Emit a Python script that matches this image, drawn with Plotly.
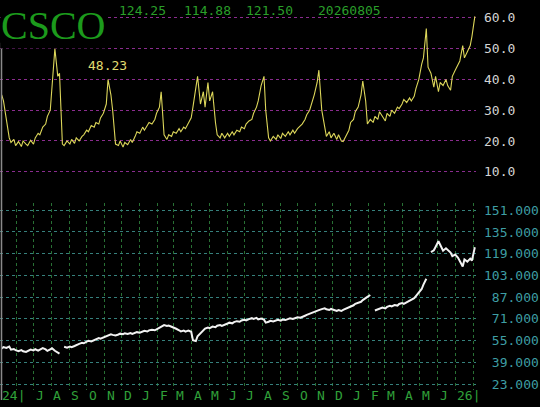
import plotly.graph_objects as go
import pandas as pd

# ---------------- data ----------------
start_date = "2024-05-07"
iv = [35, 33, 27, 21, 19.5, 20.5, 18.5, 19.8, 18.2, 20,
      19, 18.5, 20.2, 19, 21, 22.5, 22, 24.5, 25.5, 28,
      30, 37, 50, 41, 42, 19, 18.5, 20, 19, 20.5,
      19.2, 21, 20, 21.5, 22, 23.5, 23, 25, 24.5, 26,
      25.5, 27.5, 29, 32, 40, 35, 30, 19, 18.5, 20,
      18, 19.5, 18.8, 20.5, 19.5, 21.5, 23, 22.5, 24.5, 23.5,
      25, 26, 25.5, 27, 29, 31, 36, 22, 20.5, 22,
      21.5, 23, 22.5, 24, 23, 24.5, 24, 26, 27.5, 31,
      38, 41, 32, 36, 31, 39, 33, 36, 26, 22,
      21, 22.5, 21, 22.5, 21.5, 23, 22, 23.5, 23, 24.5,
      24, 25.5, 26.5, 27, 29, 31, 33, 38, 41, 30,
      21, 20, 21.5, 20.5, 22, 20.8, 22.5, 21.5, 23, 22,
      23.5, 22.5, 24, 25, 25.5, 27, 28.5, 30, 33, 35,
      39, 43, 30, 24, 21.5, 23, 21, 22.5, 20.5, 22,
      20, 19.8, 21.5, 23.5, 26, 27, 29.5, 31, 35, 39.5,
      33, 25.5, 27, 26, 28, 27, 29.5, 28, 26.5, 29,
      28, 30, 29, 31, 30.5, 32, 33.5, 32.5, 34, 33,
      34.5, 37, 40, 45, 47, 56.5, 44, 42, 37.5, 41,
      36, 39, 38, 40, 38, 36.5, 41, 43, 45, 46,
      51, 47, 49, 51, 54, 60.5]

price = [49.3, 50.2, 49.6, 50.6, 48.3, 48.8, 47.9, 47.2, 48.0, 47.1,
         46.6, 47.5, 48.4, 47.8, 48.6, 47.6, 48.2, 49.4, 48.5, 47.4,
         48.6, 49.3, 47.5, 46.2, 45.4, None, 50.4, 49.8, 50.6, 50.1,
         51.0, 51.8, 52.6, 53.3, 53.0, 54.2, 54.8, 54.4, 55.6, 56.3,
         56.9, 56.4, 57.2, 57.8, 58.3, 59.6, 59.2, 58.7, 59.5, 60.1,
         59.7, 60.4, 59.8, 60.5, 59.9, 60.6, 61.2, 60.8, 61.6, 62.2,
         61.7, 62.5, 63.0, 62.6, 63.3, 64.5, 65.8, 66.4, 65.7, 66.1,
         65.2, 64.4, 63.7, 62.6, 61.8, 62.4, 61.6, 62.3, 61.5, 55.2,
         54.6, 58.2, 60.5, 62.4, 63.8, 64.6, 64.2, 65.3, 64.8, 65.9,
         66.4, 65.8, 67.0, 67.6, 68.2, 67.7, 68.6, 69.3, 68.9, 69.8,
         70.4, 69.9, 70.8, 71.5, 71.0, 71.7, 70.6, 71.2, 70.4, 68.2,
         68.9, 69.6, 69.1, 69.8, 70.3, 69.7, 70.5, 70.1, 70.8, 71.4,
         70.9, 71.6, 72.2, 71.8, 72.6, 73.3, 73.9, 74.6, 75.4, 76.0,
         76.8, 77.4, 78.2, 78.8, 78.1, 77.5, 78.3, 77.6, 76.9, 77.5,
         76.8, 77.6, 78.5, 79.4, 80.3, 81.0, 82.1, 82.8, 83.6, 84.8,
         86.0, 87.2, 88.6, None, 77.2, 78.0, 78.6, 79.3, 78.7, 79.8,
         80.6, 80.1, 81.2, 80.8, 82.0, 82.6, 82.1, 83.3, 84.2, 84.9,
         86.2, 87.8, 90.4, 93.0, 96.2, 100.5, None, 120.2, 121.5, 124.0,
         128.3, 125.6, 121.2, 123.0, 121.6, 119.8, 117.2, 118.4, 116.0, 113.4,
         109.6, 114.8, 113.2, 115.4, 114.0, 123.8]

iv_ticks = [10, 20, 30, 40, 50, 60]
price_ticks = [23, 39, 55, 71, 87, 103, 119, 135, 151]
month_starts = pd.date_range("2024-06-01", "2026-08-01", freq="MS")
month_labels = ["24|", "J", "A", "S", "O", "N", "D", "J", "F", "M", "A", "M", "J",
                "J", "A", "S", "O", "N", "D", "J", "F", "M", "A", "M", "J", "26|"]
header_values = ["124.25", "114.88", "121.50", "20260805"]
header_x_px = [117, 182, 244, 316]
symbol = "CSCO"
iv_label = "48.23"

dates = pd.date_range(start_date, periods=len(iv), freq="3B")

# ---------------- figure ----------------
W, H = 540, 407
PW = 476  # plot area width in px
def px(x):
    return x / PW
def py(y):
    return 1 - y / H

mono = "DejaVu Sans Mono"
fig = go.Figure()
fig.add_trace(go.Scatter(x=dates, y=iv, mode="lines", xaxis="x", yaxis="y",
                         line=dict(color="#dcd65a", width=1.1), hoverinfo="skip"))
fig.add_trace(go.Scatter(x=dates, y=price, mode="lines", xaxis="x2", yaxis="y2",
                         line=dict(color="#f2f2f2", width=2), connectgaps=False,
                         hoverinfo="skip"))

xr = ["2024-05-04", "2026-08-06"]
fig.update_layout(
    width=W, height=H, showlegend=False, hovermode=False,
    margin=dict(l=0, r=W - PW, t=0, b=0),
    paper_bgcolor="black", plot_bgcolor="black",
    xaxis=dict(domain=[0, 1], range=xr, anchor="y", showgrid=False,
               showticklabels=False, zeroline=False, showline=False, ticks=""),
    yaxis=dict(domain=[py(178), py(11)], range=[8.065, 61.935], side="right",
               tickvals=iv_ticks, ticktext=[f"{v:.1f}" for v in iv_ticks],
               showgrid=True, gridcolor="#8a2c8e", griddash="dot", gridwidth=1,
               zeroline=False, showline=False, ticks="", ticklabelstandoff=7,
               tickfont=dict(family=mono, size=13, color="#d4d4d4")),
    xaxis2=dict(domain=[0, 1], range=xr, anchor="y2", tickvals=month_starts,
                showgrid=True, gridcolor="#287034", griddash="dot", gridwidth=1,
                showticklabels=False, zeroline=False, showline=False, ticks=""),
    yaxis2=dict(domain=[py(392), py(204)], range=[18.5, 156], side="right",
                tickvals=price_ticks,
                ticktext=[f"{v:7.3f}".replace(" ", "\u00a0") for v in price_ticks],
                showgrid=True, gridcolor="#36807c", griddash="dot", gridwidth=1,
                zeroline=False, showline=False, ticks="", ticklabelstandoff=7,
                tickfont=dict(family=mono, size=13, color="#3e9ea4")),
)

ann = []
ann.append(dict(text=symbol, x=0, y=py(25), xref="paper", yref="paper",
                xanchor="left", yanchor="middle", showarrow=False,
                bgcolor="black", borderpad=0,
                font=dict(family="Liberation Serif", size=40, color="#1c9a1c")))
for t, xp in zip(header_values, header_x_px):
    ann.append(dict(text=t, x=px(xp), y=py(10), xref="paper", yref="paper",
                    xanchor="left", yanchor="middle", showarrow=False,
                    font=dict(family=mono, size=13, color="#2a9e2a")))
ann.append(dict(text=iv_label, x=px(86), y=py(65), xref="paper", yref="paper",
                xanchor="left", yanchor="middle", showarrow=False,
                font=dict(family=mono, size=13, color="#e0dc70")))
for i, (d, lab) in enumerate(zip(month_starts, month_labels)):
    if i == 0:
        ann.append(dict(text=lab, x=px(0), y=py(397), xref="paper", yref="paper",
                        xanchor="left", yanchor="middle", showarrow=False,
                        font=dict(family=mono, size=13, color="#30a03a")))
    else:
        ann.append(dict(text=lab, x=d, y=py(397), xref="x2", yref="paper",
                        xanchor="left", yanchor="middle", showarrow=False,
                        font=dict(family=mono, size=13, color="#30a03a")))
fig.update_layout(annotations=ann)

fig.add_shape(type="line", xref="paper", yref="paper", x0=px(1.5), x1=px(1.5),
              y0=py(402), y1=py(42), line=dict(color="#8a8a8a", width=1.5))

fig.write_html("out.html", config={"displayModeBar": False, "staticPlot": True},
               post_script="document.body.style.margin='0';document.body.style.padding='0';")
